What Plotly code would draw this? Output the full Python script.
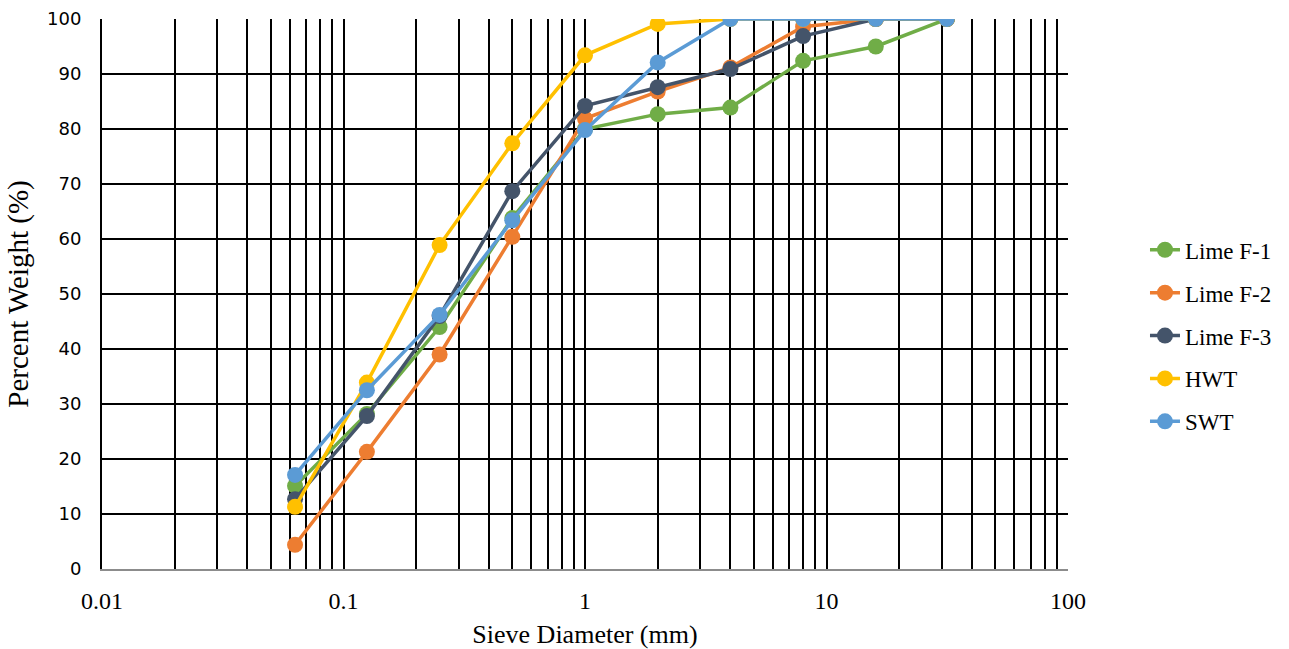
import plotly.graph_objects as go

sieve = [0.063, 0.125, 0.25, 0.5, 1, 2, 4, 8, 16, 31.5]
lime_f1 = [15.1, 28.2, 44.0, 63.8, 80.0, 82.7, 83.9, 92.4, 95.0, 100]
lime_f2 = [4.4, 21.3, 39.0, 60.4, 81.9, 86.8, 91.2, 98.6, 100, 100]
lime_f3 = [12.7, 27.8, 46.0, 68.7, 84.2, 87.6, 90.9, 96.9, 100, 100]
hwt = [11.3, 33.9, 58.9, 77.4, 93.4, 99.1, 100, 100, 100, 100]
swt = [17.1, 32.5, 46.2, 63.4, 79.8, 92.1, 100, 100, 100, 100]

series = [
    ("Lime F-1", lime_f1, "#70AD47"),
    ("Lime F-2", lime_f2, "#ED7D31"),
    ("Lime F-3", lime_f3, "#44546A"),
    ("HWT", hwt, "#FFC000"),
    ("SWT", swt, "#5B9BD5"),
]

x_tickvals = [0.01, 0.1, 1, 10, 100]
x_ticktext = ["0.01", "0.1", "1", "10", "100"]
y_tickvals = [0, 10, 20, 30, 40, 50, 60, 70, 80, 90, 100]

fig = go.Figure()
for name, vals, color in series:
    fig.add_trace(go.Scatter(
        x=sieve, y=vals, name=name, mode="lines+markers",
        legendgroup=name,
        line=dict(color=color, width=3.5),
        marker=dict(color=color, size=16),
    ))

serif = "Liberation Serif, Times New Roman, serif"

fig.update_layout(
    width=1289, height=649,
    margin=dict(l=102, r=221, t=19, b=80, autoexpand=False),
    plot_bgcolor="white", paper_bgcolor="white",
    font=dict(family=serif, color="black"),
    legend=dict(
        x=1.0797, y=0.424, xanchor="left", yanchor="middle",
        font=dict(family=serif, size=23, color="black"),
        bgcolor="rgba(0,0,0,0)",
        tracegroupgap=10,
    ),
    xaxis=dict(
        type="log", range=[-2, 2], automargin=False,
        tickvals=x_tickvals, ticktext=x_ticktext,
        tickfont=dict(family=serif, size=24, color="black"),
        showgrid=True, gridcolor="black", gridwidth=1.5,
        minor=dict(dtick="D1", showgrid=True, gridcolor="black", gridwidth=1.5, ticks=""),
        showline=True, linecolor="#8c8c8c", linewidth=2,
        ticks="", ticklabelstandoff=9,
        zeroline=False,
        title=dict(text="Sieve Diameter (mm)", font=dict(family=serif, size=26, color="black"), standoff=16),
    ),
    yaxis=dict(
        range=[0, 100], tickvals=y_tickvals, automargin=False,
        tickfont=dict(family="DejaVu Sans, Verdana, sans-serif", size=18, color="black"),
        showgrid=True, gridcolor="black", gridwidth=1.5,
        showline=True, linecolor="black", linewidth=2,
        ticks="", ticklabelstandoff=15,
        zeroline=False,
        title=dict(text="Percent Weight (%)", font=dict(family=serif, size=29, color="black"), standoff=10),
    ),
)

fig.write_html("out.html")
